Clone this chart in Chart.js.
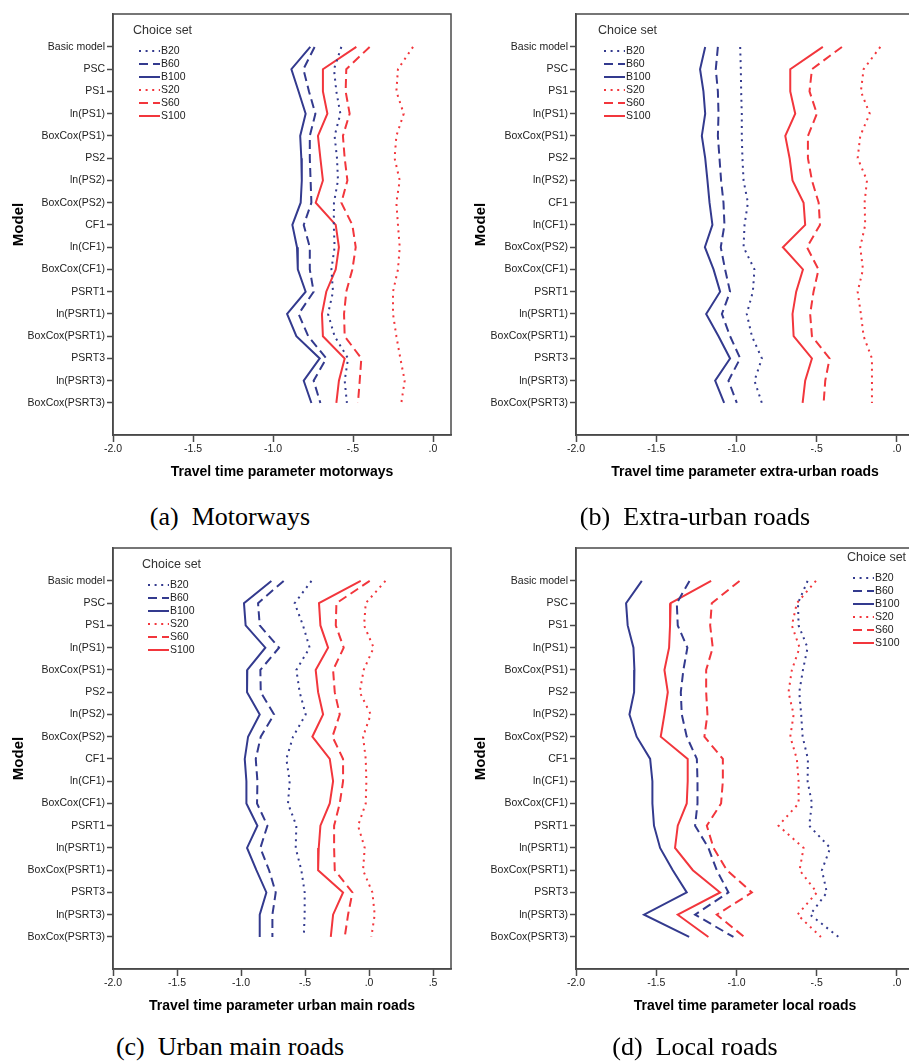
<!DOCTYPE html>
<html>
<head>
<meta charset="utf-8">
<script src="https://cdn.jsdelivr.net/npm/chart.js@4.4.1/dist/chart.umd.min.js"></script>
<style>
  html, body { margin: 0; padding: 0; background: #fff; }
  #page { position: relative; width: 909px; height: 1061px; overflow: hidden; background: #fff; }
  canvas { position: absolute; }
  .cap { position: absolute; font-family: "Liberation Serif", "DejaVu Serif", serif; font-size: 26px;
         line-height: 30px; text-align: center; color: #000; white-space: pre; }
</style>
</head>
<body>
<div id="page">
  <canvas id="cA" width="455" height="490" style="left:0;top:0"></canvas>
  <canvas id="cB" width="470" height="490" style="left:450px;top:0"></canvas>
  <canvas id="cC" width="455" height="490" style="left:0;top:534px"></canvas>
  <canvas id="cD" width="470" height="490" style="left:450px;top:534px"></canvas>
  <div class="cap" style="left:0;width:460px;top:502px">(a)  Motorways</div>
  <div class="cap" style="left:450px;width:490px;top:502px">(b)  Extra-urban roads</div>
  <div class="cap" style="left:0;width:460px;top:1032px">(c)  Urban main roads</div>
  <div class="cap" style="left:450px;width:490px;top:1032px">(d)  Local roads</div>
</div>
<script>
// model labels (panel b uses a different order)
const models = ['Basic model', 'PSC', 'PS1', 'ln(PS1)', 'BoxCox(PS1)', 'PS2', 'ln(PS2)', 'BoxCox(PS2)',
  'CF1', 'ln(CF1)', 'BoxCox(CF1)', 'PSRT1', 'ln(PSRT1)', 'BoxCox(PSRT1)', 'PSRT3', 'ln(PSRT3)', 'BoxCox(PSRT3)'];
const modelsExtraUrban = ['Basic model', 'PSC', 'PS1', 'ln(PS1)', 'BoxCox(PS1)', 'PS2', 'ln(PS2)', 'CF1',
  'ln(CF1)', 'BoxCox(PS2)', 'BoxCox(CF1)', 'PSRT1', 'ln(PSRT1)', 'BoxCox(PSRT1)', 'PSRT3', 'ln(PSRT3)', 'BoxCox(PSRT3)'];
const choiceSets = ['B20', 'B60', 'B100', 'S20', 'S60', 'S100'];

const xTicksA = [-2, -1.5, -1, -0.5, 0];
const xTickLabelsA = ['-2.0', '-1.5', '-1.0', '-.5', '.0'];
const xTicksC = [-2, -1.5, -1, -0.5, 0, 0.5];
const xTickLabelsC = ['-2.0', '-1.5', '-1.0', '-.5', '.0', '.5'];

// (a) motorways
const motB20 = [-0.573, -0.619, -0.604, -0.579, -0.615, -0.600, -0.594, -0.619, -0.620, -0.615, -0.635, -0.625, -0.656, -0.615, -0.531, -0.552, -0.538];
const motB60 = [-0.740, -0.810, -0.775, -0.735, -0.770, -0.770, -0.765, -0.760, -0.808, -0.770, -0.770, -0.746, -0.840, -0.780, -0.667, -0.746, -0.704];
const motB100 = [-0.767, -0.885, -0.840, -0.796, -0.830, -0.823, -0.820, -0.827, -0.879, -0.850, -0.845, -0.796, -0.912, -0.854, -0.708, -0.808, -0.760];
const motS20 = [-0.125, -0.219, -0.229, -0.183, -0.229, -0.240, -0.208, -0.229, -0.219, -0.208, -0.219, -0.250, -0.250, -0.229, -0.204, -0.177, -0.198];
const motS60 = [-0.396, -0.542, -0.546, -0.521, -0.563, -0.552, -0.535, -0.573, -0.504, -0.483, -0.504, -0.542, -0.556, -0.552, -0.448, -0.458, -0.469];
const motS100 = [-0.479, -0.688, -0.688, -0.660, -0.719, -0.704, -0.688, -0.733, -0.608, -0.588, -0.608, -0.667, -0.694, -0.688, -0.552, -0.588, -0.604];

// (b) extra-urban roads
const extB20 = [-0.977, -0.973, -0.971, -0.967, -0.967, -0.963, -0.956, -0.929, -0.950, -0.956, -0.888, -0.898, -0.936, -0.904, -0.842, -0.888, -0.842];
const extB60 = [-1.116, -1.129, -1.116, -1.112, -1.116, -1.106, -1.096, -1.081, -1.075, -1.098, -1.071, -1.040, -1.091, -1.040, -0.977, -1.050, -0.998];
const extB100 = [-1.195, -1.227, -1.206, -1.195, -1.216, -1.195, -1.181, -1.168, -1.150, -1.197, -1.143, -1.102, -1.189, -1.112, -1.040, -1.133, -1.077];
const extS20 = [-0.104, -0.208, -0.225, -0.170, -0.229, -0.245, -0.187, -0.202, -0.198, -0.229, -0.212, -0.245, -0.225, -0.208, -0.156, -0.156, -0.156];
const extS60 = [-0.343, -0.530, -0.545, -0.499, -0.555, -0.555, -0.530, -0.488, -0.480, -0.561, -0.489, -0.520, -0.541, -0.530, -0.420, -0.447, -0.457];
const extS100 = [-0.462, -0.665, -0.665, -0.634, -0.696, -0.669, -0.651, -0.582, -0.572, -0.711, -0.586, -0.628, -0.651, -0.644, -0.530, -0.572, -0.588];

// (c) urban main roads
const urbB20 = [-0.450, -0.581, -0.516, -0.464, -0.568, -0.542, -0.495, -0.594, -0.646, -0.620, -0.633, -0.568, -0.573, -0.529, -0.503, -0.503, -0.510];
const urbB60 = [-0.667, -0.867, -0.854, -0.703, -0.849, -0.846, -0.742, -0.846, -0.885, -0.872, -0.875, -0.794, -0.849, -0.781, -0.729, -0.755, -0.755];
const urbB100 = [-0.763, -0.977, -0.964, -0.810, -0.951, -0.953, -0.854, -0.945, -0.971, -0.958, -0.958, -0.872, -0.953, -0.880, -0.802, -0.854, -0.854];
const urbS20 = [0.128, -0.026, -0.039, 0.036, -0.042, -0.073, 0.013, -0.047, -0.026, -0.021, -0.026, -0.086, -0.034, -0.047, 0.026, 0.044, 0.018];
const urbS60 = [0.005, -0.255, -0.260, -0.198, -0.281, -0.268, -0.229, -0.286, -0.203, -0.203, -0.229, -0.273, -0.273, -0.268, -0.130, -0.164, -0.190];
const urbS100 = [-0.065, -0.391, -0.380, -0.320, -0.417, -0.398, -0.359, -0.443, -0.307, -0.281, -0.307, -0.380, -0.393, -0.398, -0.203, -0.281, -0.299];

// (d) local roads
const locB20 = [-0.557, -0.617, -0.613, -0.557, -0.586, -0.609, -0.597, -0.588, -0.555, -0.557, -0.530, -0.547, -0.416, -0.468, -0.437, -0.541, -0.364];
const locB60 = [-1.293, -1.372, -1.366, -1.306, -1.331, -1.347, -1.341, -1.310, -1.247, -1.243, -1.243, -1.258, -1.175, -1.123, -1.050, -1.258, -1.019];
const locB100 = [-1.590, -1.688, -1.678, -1.642, -1.636, -1.638, -1.667, -1.622, -1.538, -1.524, -1.524, -1.514, -1.476, -1.397, -1.310, -1.576, -1.295];
const locS20 = [-0.505, -0.624, -0.655, -0.607, -0.655, -0.676, -0.644, -0.665, -0.624, -0.613, -0.613, -0.738, -0.582, -0.607, -0.499, -0.620, -0.474];
const locS60 = [-0.981, -1.154, -1.164, -1.148, -1.189, -1.189, -1.181, -1.200, -1.085, -1.085, -1.096, -1.185, -1.143, -1.060, -0.904, -1.123, -0.952];
const locS100 = [-1.158, -1.410, -1.414, -1.420, -1.449, -1.428, -1.449, -1.472, -1.304, -1.304, -1.310, -1.366, -1.383, -1.272, -1.102, -1.366, -1.175];

// styles
const BLUE = '#333a8e';
const RED = '#f2363c';
const AXIS = '#4a4a4a';
const lineColors = [BLUE, BLUE, BLUE, RED, RED, RED];
const lineDashes = [[2, 4.6], [9, 5], [], [2, 4.6], [9, 5], []];
const SANS = '"Liberation Sans", Arial, sans-serif';

// box around the plot + "Choice set" legend
const framePlugin = {
  id: 'frameLegend',
  afterDraw(chart, args, opts) {
    const { ctx, chartArea: a } = chart;
    ctx.save();
    ctx.strokeStyle = AXIS;
    ctx.lineWidth = 1.5;
    ctx.strokeRect(a.left, a.top, a.right - a.left, a.bottom - a.top);

    const lx = a.left + opts.dx, ly = a.top + opts.dy;
    ctx.fillStyle = '#333';
    ctx.textBaseline = 'middle';
    ctx.textAlign = 'left';
    ctx.font = '12.5px ' + SANS;
    ctx.fillText('Choice set', lx, ly);
    ctx.font = '10.5px ' + SANS;
    chart.data.datasets.forEach((ds, i) => {
      const y = ly + 20 + i * 13;
      ctx.beginPath();
      ctx.strokeStyle = ds.borderColor;
      ctx.lineWidth = 2;
      ctx.setLineDash(ds.borderDash);
      ctx.moveTo(lx + 6, y);
      ctx.lineTo(lx + 27, y);
      ctx.stroke();
      ctx.setLineDash([]);
      ctx.fillStyle = '#222';
      ctx.fillText(ds.label, lx + 28, y);
    });
    ctx.restore();
  }
};

function buildPanel(id, cfg) {
  const datasets = cfg.series.map((vals, i) => ({
    label: choiceSets[i],
    data: vals.map((v, k) => ({ x: v, y: k })),
    borderColor: lineColors[i],
    borderDash: lineDashes[i],
    borderWidth: 2,
    pointRadius: 0,
    tension: 0,
    fill: false
  }));
  return new Chart(document.getElementById(id), {
    type: 'line',
    data: { datasets },
    plugins: [framePlugin],
    options: {
      responsive: false,
      animation: false,
      devicePixelRatio: 1,
      layout: { padding: { left: 0, right: cfg.padRight, top: 14, bottom: 0 } },
      plugins: {
        legend: { display: false },
        tooltip: { enabled: false },
        frameLegend: cfg.legend
      },
      scales: {
        x: {
          type: 'linear',
          min: -2,
          max: cfg.xMax,
          afterBuildTicks: s => { s.ticks = cfg.xTicks.map(v => ({ value: v })); },
          afterFit: s => { s.height = 55; },
          ticks: {
            autoSkip: false, maxRotation: 0, padding: 1,
            callback: v => cfg.xTickLabels[cfg.xTicks.indexOf(v)],
            font: { family: SANS, size: 10.5 }, color: '#222'
          },
          grid: { drawOnChartArea: false, tickLength: 7, color: AXIS, tickWidth: 1.5 },
          border: { display: true, color: AXIS, width: 1.5 },
          title: {
            display: true, text: cfg.xTitle, color: '#000',
            font: { family: SANS, size: 14, weight: 'bold' },
            padding: { top: 0, bottom: 9.6 }
          }
        },
        y: {
          type: 'linear',
          reverse: true,
          min: -1.48,
          max: 17.44,
          afterBuildTicks: s => { s.ticks = cfg.labels.map((_, i) => ({ value: i })); },
          afterFit: s => { s.width = cfg.yWidth; },
          ticks: {
            autoSkip: false, padding: 2,
            callback: v => cfg.labels[v],
            font: { family: SANS, size: 10.5 }, color: '#222'
          },
          grid: { drawOnChartArea: false, tickLength: 6, color: AXIS, tickWidth: 1.5 },
          border: { display: true, color: AXIS, width: 1.5 },
          title: {
            display: true, text: 'Model', color: '#000',
            font: { family: SANS, size: 15, weight: 'bold' },
            padding: { top: cfg.yTitlePad, bottom: 0 }
          }
        }
      }
    }
  });
}

buildPanel('cA', {
  labels: models,
  series: [motB20, motB60, motB100, motS20, motS60, motS100],
  xMax: 0.1125, xTicks: xTicksA, xTickLabels: xTickLabelsA,
  xTitle: 'Travel time parameter motorways',
  yWidth: 113, padRight: 4, yTitlePad: 10,
  legend: { dx: 20, dy: 17 }
});
buildPanel('cB', {
  labels: modelsExtraUrban,
  series: [extB20, extB60, extB100, extS20, extS60, extS100],
  xMax: 0.106, xTicks: xTicksA, xTickLabels: xTickLabelsA,
  xTitle: 'Travel time parameter extra-urban roads',
  yWidth: 126, padRight: 6, yTitlePad: 22,
  legend: { dx: 22, dy: 17 }
});
buildPanel('cC', {
  labels: models,
  series: [urbB20, urbB60, urbB100, urbS20, urbS60, urbS100],
  xMax: 0.64, xTicks: xTicksC, xTickLabels: xTickLabelsC,
  xTitle: 'Travel time parameter urban main roads',
  yWidth: 113, padRight: 4, yTitlePad: 10,
  legend: { dx: 29, dy: 17 }
});
buildPanel('cD', {
  labels: models,
  series: [locB20, locB60, locB100, locS20, locS60, locS100],
  xMax: 0.106, xTicks: xTicksA, xTickLabels: xTickLabelsA,
  xTitle: 'Travel time parameter local roads',
  yWidth: 126, padRight: 6, yTitlePad: 22,
  legend: { dx: 271, dy: 10 }
});
</script>
</body>
</html>
